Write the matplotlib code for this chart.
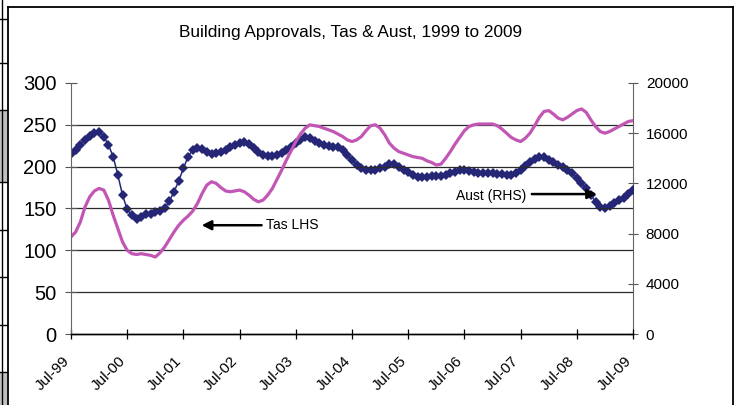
import matplotlib
matplotlib.use("Agg")
import matplotlib.pyplot as plt
from matplotlib.patches import Rectangle
from matplotlib.lines import Line2D
from matplotlib.transforms import ScaledTranslation

plt.rcParams['font.family'] = ['Liberation Sans', 'DejaVu Sans']

# ---- data (monthly, Jul-99 .. Jul-09) ----
tick_labels = ["Jul-99", "Jul-00", "Jul-01", "Jul-02", "Jul-03", "Jul-04",
               "Jul-05", "Jul-06", "Jul-07", "Jul-08", "Jul-09"]

tas_lhs = [116, 122, 134, 152, 164, 171, 174, 172, 160, 142, 126, 110,
           100, 96, 95, 96, 95, 94, 92, 97, 104, 113, 122, 130,
           136, 141, 147, 156, 168, 178, 182, 180, 175, 171, 170, 171,
           172, 170, 166, 161, 158, 160, 166, 174, 185, 196, 208, 219,
           230, 239, 246, 250, 249, 248, 246, 244, 242, 239, 236, 232,
           230, 232, 236, 243, 249, 250, 246, 238, 228, 222, 218, 216,
           214, 212, 211, 210, 207, 205, 202, 203, 210, 218, 227, 235,
           243, 248, 250, 251, 251, 251, 251, 249, 245, 240, 235, 232,
           230, 234, 240, 249, 259, 266, 267, 263, 258, 256, 259, 263,
           267, 269, 265, 256, 248, 242, 240, 242, 245, 248, 251, 254,
           255]

aust_rhs = [14330, 14670, 15070, 15470, 15800, 16000, 16070, 15730, 15070, 14130, 12670, 11070,
            9930, 9470, 9130, 9330, 9530, 9600, 9730, 9800, 10000, 10600, 11330, 12200,
            13200, 14130, 14670, 14800, 14730, 14530, 14330, 14400, 14530, 14670, 14870, 15070,
            15200, 15270, 15130, 14800, 14530, 14270, 14200, 14200, 14270, 14400, 14670, 14930,
            15200, 15470, 15670, 15600, 15400, 15200, 15070, 15000, 14930, 14870, 14670, 14270,
            13870, 13470, 13200, 13070, 13070, 13070, 13200, 13330, 13530, 13530, 13330, 13070,
            12870, 12670, 12530, 12530, 12530, 12600, 12600, 12600, 12670, 12800, 12930, 13070,
            13070, 13000, 12930, 12800, 12800, 12800, 12800, 12730, 12730, 12670, 12670, 12800,
            13070, 13400, 13730, 13930, 14070, 14070, 13870, 13670, 13470, 13270, 13070, 12800,
            12400, 12070, 11600, 11070, 10530, 10130, 10070, 10200, 10400, 10670, 10870, 11130,
            11470]

left_ticks = [0, 50, 100, 150, 200, 250, 300]
right_ticks = [0, 4000, 8000, 12000, 16000, 20000]
title = "Building Approvals, Tas & Aust, 1999 to 2009"

months = list(range(len(tas_lhs)))
tick_pos = list(range(0, len(tas_lhs), 12))

W, H = 739, 405
fig = plt.figure(figsize=(W / 100, H / 100), dpi=100)
fig.patch.set_facecolor('white')

# axes placement (pixels)
L, R, T, B = 71, 633, 83, 334
ax = fig.add_axes([L / W, (H - B) / H, (R - L) / W, (B - T) / H])
ax2 = ax.twinx()

pink = '#c256b4'
navy = '#262676'

ax.set_xlim(0, 120)
ax.set_ylim(0, 300)
ax2.set_ylim(0, 20000)

for y in left_ticks[1:-1]:
    ax.axhline(y, color='#2a2a2a', lw=0.9, zorder=0)

ax2.plot(months, aust_rhs, color=navy, lw=1.1, marker='D', markersize=5.0,
         markeredgewidth=0, zorder=3)
ax.plot(months, tas_lhs, color=pink, lw=2.3, zorder=2, solid_capstyle='round')
ax.set_zorder(ax2.get_zorder() + 1)
ax.patch.set_visible(False)

ax.set_yticks(left_ticks)
ax.set_yticklabels([str(v) for v in left_ticks], fontsize=14.5)
ax2.set_yticks(right_ticks)
ax2.set_yticklabels([str(v) for v in right_ticks], fontsize=11)
ax.set_xticks(tick_pos)

ax.tick_params(axis='y', direction='inout', length=8.5, width=0.8, pad=6,
               color='#555555')
ax.tick_params(axis='x', direction='inout', length=7.5, width=0.9, pad=14)
ax2.tick_params(axis='y', direction='inout', length=6.5, width=0.8, pad=6,
                color='#555555')

ax.set_xticklabels(tick_labels, fontsize=11, rotation=45, ha='right',
                   va='center', rotation_mode='anchor')
shift = ScaledTranslation(-4 / 100, 0, fig.dpi_scale_trans)
for lbl in ax.get_xticklabels():
    lbl.set_transform(lbl.get_transform() + shift)

for a in (ax, ax2):
    a.spines['top'].set_visible(False)
    a.spines['left'].set_color('#666666')
    a.spines['right'].set_color('#666666')
    a.spines['bottom'].set_color('black')
    a.spines['bottom'].set_linewidth(1.0)
ax2.spines['left'].set_visible(False)
ax.spines['right'].set_visible(False)

# annotations
ax.annotate("", xy=(27.9, 130), xytext=(40.7, 130),
            arrowprops=dict(arrowstyle='-|>', color='black', lw=1.8,
                            mutation_scale=14, shrinkA=0, shrinkB=0))
ax.text(41.6, 130, "Tas LHS", fontsize=10, va='center', ha='left')
ax2.annotate("", xy=(112.3, 11150), xytext=(98.4, 11150),
             arrowprops=dict(arrowstyle='-|>', color='black', lw=1.8,
                             mutation_scale=14, shrinkA=0, shrinkB=0))
ax2.text(97.2, 11020, "Aust (RHS)", fontsize=10, va='center', ha='right')

fig.text(351 / W, 1 - 32 / H, title, fontsize=12.4, ha='center', va='center')

# outer frame and spreadsheet edge
def px_line(x0, y0, x1, y1, lw=1.0, color='black'):
    fig.add_artist(Line2D([x0 / W, x1 / W], [1 - y0 / H, 1 - y1 / H],
                          transform=fig.transFigure, color=color, lw=lw))

for (y0, y1) in [(110, 182), (372, 405)]:
    fig.add_artist(Rectangle((0, 1 - y1 / H), 7 / W, (y1 - y0) / H,
                             transform=fig.transFigure, facecolor='#c0c0c0',
                             edgecolor='none'))
px_line(8, 7, 733, 7, lw=1.3)
px_line(8, 7, 8, 405, lw=1.3)
px_line(733, 7, 733, 405, lw=1.3)
px_line(2, 0, 2, 405, lw=1.0)
for yy in [19, 63, 110, 182, 230, 277, 325, 372]:
    px_line(0, yy, 7, yy, lw=1.0)

fig.savefig("out.png", dpi=100)
